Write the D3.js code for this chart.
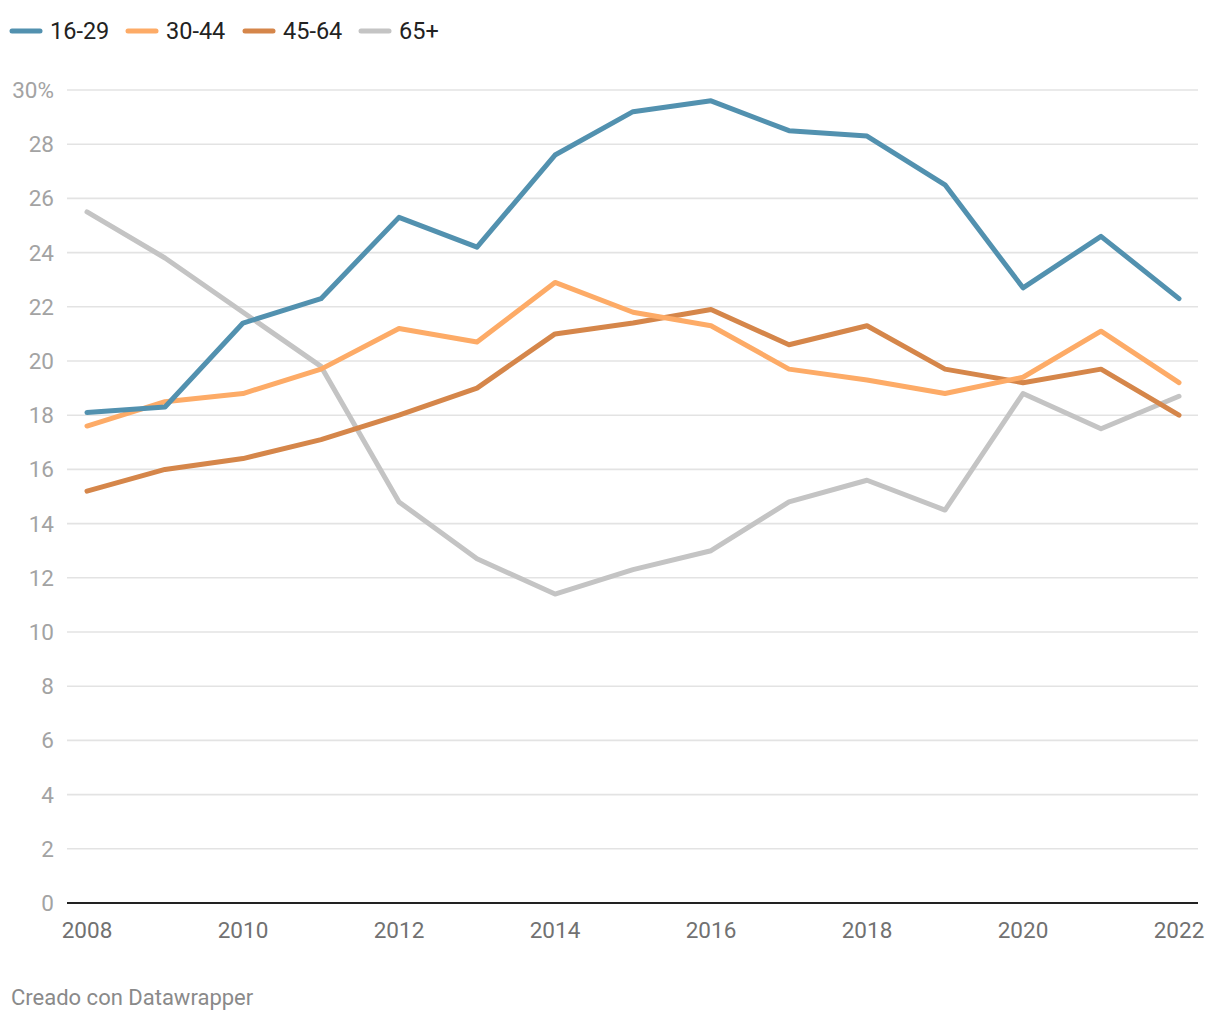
<!DOCTYPE html>
<html>
<head>
<meta charset="utf-8">
<script src="https://cdn.jsdelivr.net/npm/d3@7"></script>
<style>
  html, body { margin: 0; padding: 0; background: #fff; }
  svg { display: block; font-family: Roboto, "Noto Sans", sans-serif; }
</style>
</head>
<body>
<svg id="chart" width="1220" height="1020"></svg>
<script>
const years = [2008, 2009, 2010, 2011, 2012, 2013, 2014, 2015, 2016, 2017, 2018, 2019, 2020, 2021, 2022];
const seriesNames = ["16-29", "30-44", "45-64", "65+"];
const colors = ["#5291af", "#fdab67", "#d5864a", "#c4c4c4"];
const s16_29 = [18.1, 18.3, 21.4, 22.3, 25.3, 24.2, 27.6, 29.2, 29.6, 28.5, 28.3, 26.5, 22.7, 24.6, 22.3];
const s30_44 = [17.6, 18.5, 18.8, 19.7, 21.2, 20.7, 22.9, 21.8, 21.3, 19.7, 19.3, 18.8, 19.4, 21.1, 19.2];
const s45_64 = [15.2, 16.0, 16.4, 17.1, 18.0, 19.0, 21.0, 21.4, 21.9, 20.6, 21.3, 19.7, 19.2, 19.7, 18.0];
const s65 = [25.5, 23.8, 21.8, 19.8, 14.8, 12.7, 11.4, 12.3, 13.0, 14.8, 15.6, 14.5, 18.8, 17.5, 18.7];
const yTicks = [0, 2, 4, 6, 8, 10, 12, 14, 16, 18, 20, 22, 24, 26, 28, 30];
const xTicks = [2008, 2010, 2012, 2014, 2016, 2018, 2020, 2022];
const footer = "Creado con Datawrapper";

const allSeries = [s16_29, s30_44, s45_64, s65];

const svg = d3.select("#chart");
const x = d3.scaleLinear().domain([2008, 2022]).range([87, 1179]);
const y = d3.scaleLinear().domain([0, 30]).range([903, 90]);
const gridX0 = 67, gridX1 = 1198;

// gridlines
svg.append("g").selectAll("line").data(yTicks.filter(d => d !== 0)).join("line")
  .attr("x1", gridX0).attr("x2", gridX1)
  .attr("y1", d => y(d)).attr("y2", d => y(d))
  .attr("stroke", "#e3e3e3").attr("stroke-width", 1.6);

// y labels
svg.append("g").selectAll("text").data(yTicks).join("text")
  .attr("x", 54).attr("y", d => y(d))
  .attr("text-anchor", "end").attr("dominant-baseline", "central")
  .attr("fill", "#a3a3a3").style("font-size", "22.5px")
  .text(d => d === 30 ? "30%" : d);

// baseline
svg.append("line").attr("x1", gridX0).attr("x2", gridX1)
  .attr("y1", y(0)).attr("y2", y(0))
  .attr("stroke", "#222").attr("stroke-width", 2);

// x labels
svg.append("g").selectAll("text").data(xTicks).join("text")
  .attr("x", d => x(d)).attr("y", 930)
  .attr("text-anchor", "middle").attr("dominant-baseline", "central")
  .attr("fill", "#717171").style("font-size", "22.5px")
  .text(d => d);

// lines
const line = d3.line().x((d, i) => x(years[i])).y(d => y(d));
const order = [3, 2, 1, 0];
svg.append("g").selectAll("path").data(order).join("path")
  .attr("d", i => line(allSeries[i]))
  .attr("fill", "none")
  .attr("stroke", i => colors[i])
  .attr("stroke-width", 5)
  .attr("stroke-linejoin", "round")
  .attr("stroke-linecap", "round");

// legend
const legendX = [12, 128, 245, 361];
const lg = svg.append("g").selectAll("g").data(seriesNames).join("g")
  .attr("transform", (d, i) => `translate(${legendX[i]},31)`);
lg.append("line").attr("x1", 0).attr("x2", 28).attr("y1", 0).attr("y2", 0)
  .attr("stroke", (d, i) => colors[i]).attr("stroke-width", 5).attr("stroke-linecap", "round");
lg.append("text").attr("x", 38).attr("y", 0).attr("dominant-baseline", "central")
  .attr("fill", "#222").style("font-size", "23.5px").text(d => d);

// footer
svg.append("text").attr("x", 11).attr("y", 997).attr("dominant-baseline", "central")
  .attr("fill", "#8a8a8a").style("font-size", "22px").text(footer);
</script>
</body>
</html>
